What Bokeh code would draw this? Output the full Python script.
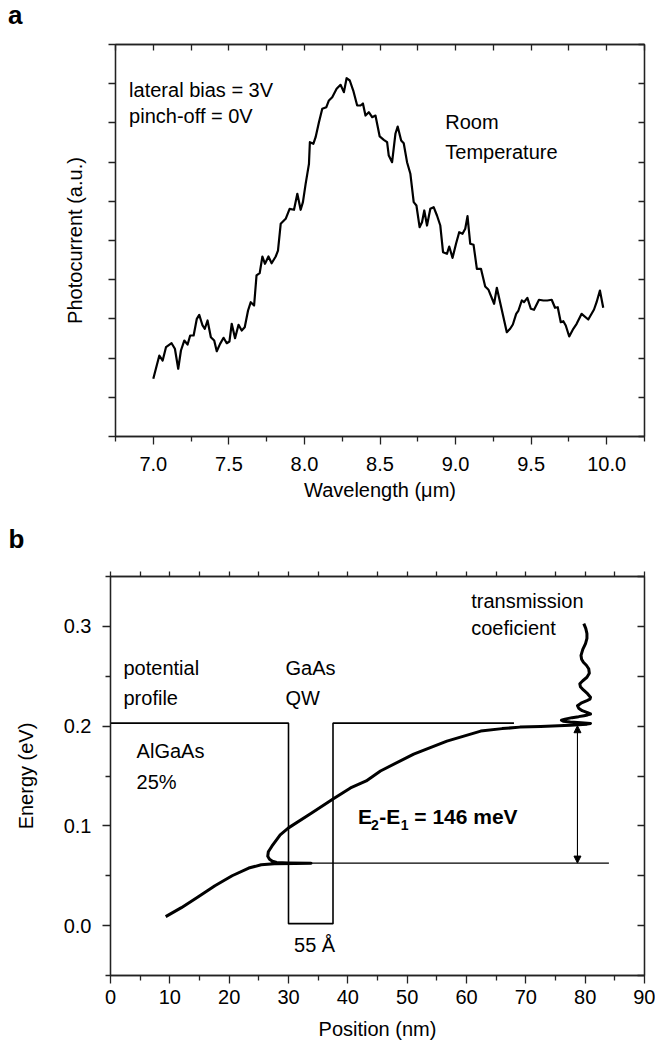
from bokeh.plotting import figure
from bokeh.models import LinearAxis, FixedTicker, Arrow, NormalHead, Div
from bokeh.layouts import column
from bokeh.core.properties import value
from bokeh.embed import file_html
from bokeh.resources import INLINE

FONT = "Liberation Sans"
INK = "#222222"

# ---------------- panel a data ----------------
a_wavelength = [7.000, 7.040, 7.062, 7.084, 7.121, 7.143, 7.165, 7.183, 7.205, 7.227,
                7.244, 7.267, 7.288, 7.304, 7.326, 7.341, 7.359, 7.381, 7.403, 7.420,
                7.442, 7.465, 7.486, 7.504, 7.519, 7.541, 7.564, 7.585, 7.605, 7.627,
                7.645, 7.667, 7.683, 7.704, 7.722, 7.739, 7.762, 7.783, 7.810, 7.825,
                7.843, 7.876, 7.902, 7.931, 7.953, 7.975, 7.990, 8.008, 8.030, 8.036,
                8.059, 8.074, 8.096, 8.118, 8.145, 8.162, 8.184, 8.213, 8.239, 8.261,
                8.279, 8.300, 8.323, 8.349, 8.371, 8.387, 8.404, 8.426, 8.448, 8.470,
                8.498, 8.525, 8.547, 8.558, 8.580, 8.602, 8.617, 8.640, 8.657, 8.679,
                8.701, 8.723, 8.741, 8.762, 8.778, 8.793, 8.811, 8.833, 8.855, 8.877,
                8.899, 8.917, 8.943, 8.958, 8.980, 9.003, 9.024, 9.046, 9.064, 9.079,
                9.097, 9.119, 9.141, 9.168, 9.196, 9.218, 9.255, 9.273, 9.339, 9.361,
                9.379, 9.401, 9.416, 9.438, 9.453, 9.475, 9.498, 9.519, 9.552, 9.581,
                9.607, 9.636, 9.658, 9.676, 9.696, 9.713, 9.729, 9.752, 9.779, 9.801,
                9.834, 9.878, 9.916, 9.933, 9.955, 9.977]
a_photocurrent = [0.736, 1.033, 0.969, 1.139, 1.190, 1.119, 0.864, 1.097, 1.224, 1.173,
                  1.288, 1.288, 1.501, 1.552, 1.416, 1.374, 1.480, 1.267, 1.224, 1.088,
                  1.182, 1.259, 1.190, 1.212, 1.438, 1.254, 1.425, 1.352, 1.394, 1.607,
                  1.713, 1.671, 2.054, 2.083, 2.296, 2.203, 2.296, 2.210, 2.296, 2.372,
                  2.713, 2.777, 2.904, 2.892, 3.096, 2.892, 2.989, 3.223, 3.478, 3.754,
                  3.733, 3.818, 4.009, 4.180, 4.200, 4.286, 4.328, 4.435, 4.486, 4.392,
                  4.570, 4.541, 4.413, 4.222, 4.222, 4.247, 4.094, 4.136, 4.073, 4.094,
                  3.827, 3.784, 3.754, 3.584, 3.499, 3.861, 3.954, 3.776, 3.741, 3.499,
                  3.351, 2.989, 2.946, 2.670, 2.733, 2.883, 2.691, 2.904, 2.925, 2.819,
                  2.691, 2.351, 2.330, 2.423, 2.279, 2.458, 2.606, 2.585, 2.649, 2.810,
                  2.458, 2.445, 2.139, 2.139, 1.913, 1.871, 1.693, 1.897, 1.330, 1.374,
                  1.429, 1.565, 1.607, 1.735, 1.713, 1.769, 1.629, 1.616, 1.744, 1.735,
                  1.735, 1.744, 1.642, 1.649, 1.458, 1.471, 1.416, 1.276, 1.374, 1.437,
                  1.565, 1.492, 1.620, 1.713, 1.862, 1.642]
a_xticks = [7.0, 7.5, 8.0, 8.5, 9.0, 9.5, 10.0]
a_xtick_labels = ["7.0", "7.5", "8.0", "8.5", "9.0", "9.5", "10.0"]
a_xminor = [6.75, 7.25, 7.75, 8.25, 8.75, 9.25, 9.75, 10.25]
a_yticks = [0, 1, 2, 3, 4, 5]
a_yminor = [0.5, 1.5, 2.5, 3.5, 4.5]

# ---------------- panel b data ----------------
pot_x = [0, 30.0, 30.0, 37.5, 37.5, 68.0]
pot_E = [0.203, 0.203, 0.002, 0.002, 0.203, 0.203]
e1_level = 0.0627
e1_x = [27.0, 84.0]
e2_level = 0.2004
arrow_x = 78.7
trans_E = [0.009, 0.018, 0.029, 0.040, 0.050, 0.0577, 0.061, 0.0620, 0.0624, 0.0626,
           0.0629, 0.0633, 0.0645, 0.0665, 0.0695, 0.0740, 0.0796, 0.091, 0.098, 0.113,
           0.127, 0.138, 0.145, 0.155, 0.172, 0.185, 0.195, 0.1975, 0.1990, 0.1997,
           0.2002, 0.2010, 0.2020, 0.2027, 0.2035, 0.2042, 0.2050, 0.2060, 0.2070, 0.2085,
           0.2095, 0.2105, 0.2112, 0.2122, 0.2135, 0.2155, 0.2180, 0.2205, 0.2230, 0.2256,
           0.2270, 0.2289, 0.2325, 0.2363, 0.2395, 0.2424, 0.2455, 0.2490, 0.2530, 0.2575,
           0.2610, 0.2640, 0.2670, 0.2709, 0.2770, 0.2827, 0.2880, 0.2927, 0.2980, 0.3028]
trans_x = [9.3, 11.95, 14.8, 17.6, 20.5, 23.3, 25.4, 27.6, 31.1, 33.8,
           30.0, 28.0, 27.3, 26.8, 26.5, 26.6, 27.2, 28.6, 30.0, 33.9,
           37.5, 40.45, 43.1, 45.5, 51.1, 56.7, 62.4, 66.0, 69.0, 72.5,
           74.5, 77.5, 80.3, 80.9, 79.3, 77.5, 76.3, 76.0, 76.6, 77.8,
           78.9, 79.8, 80.4, 80.9, 80.4, 79.5, 78.9, 78.7, 79.3, 80.3,
           80.8, 80.9, 80.4, 79.7, 79.2, 79.1, 79.6, 80.3, 80.7, 80.6,
           80.2, 79.7, 79.4, 79.3, 79.6, 80.06, 80.3, 80.3, 80.1, 79.77]
b_xticks = [0, 10, 20, 30, 40, 50, 60, 70, 80, 90]
b_xtick_labels = ["0", "10", "20", "30", "40", "50", "60", "70", "80", "90"]
b_xminor = [5, 15, 25, 35, 45, 55, 65, 75, 85]
b_yticks = [0.0, 0.1, 0.2, 0.3]
b_ytick_labels = ["0.0", "0.1", "0.2", "0.3"]
b_yminor = [-0.05, 0.05, 0.15, 0.25, 0.35]


def base_axis_style(ax):
    ax.axis_line_color = INK
    ax.axis_line_width = 1.3
    ax.major_tick_line_color = INK
    ax.major_tick_line_width = 1.3
    ax.minor_tick_line_color = INK
    ax.minor_tick_line_width = 1.3
    ax.axis_label_text_font = FONT
    ax.axis_label_text_font_style = "normal"
    ax.axis_label_text_color = "black"
    ax.axis_label_text_font_size = "20px"


def labelled_axis(ax, ticks, minor, labels, maj_out, min_out):
    base_axis_style(ax)
    ax.ticker = FixedTicker(ticks=ticks, minor_ticks=minor)
    ax.major_tick_in = 0
    ax.major_tick_out = maj_out
    ax.minor_tick_in = 0
    ax.minor_tick_out = min_out
    ax.major_label_text_font = FONT
    ax.major_label_text_color = "black"
    ax.major_label_text_font_size = "20px"
    ax.major_label_overrides = {t: l for t, l in zip(ticks, labels)}


def plain_axis(ax, ticks, minor, tick_in, tick_out):
    # an axis that shows tick marks only (drawn as minor ticks, which carry no labels)
    base_axis_style(ax)
    ax.ticker = FixedTicker(ticks=[], minor_ticks=sorted(list(ticks) + list(minor)))
    ax.major_tick_in = 0
    ax.major_tick_out = 0
    ax.minor_tick_in = tick_in
    ax.minor_tick_out = tick_out
    ax.major_label_standoff = 0


def base_fig(height, xr, yr, top, left, letter=None, title_standoff=10):
    kw = {}
    if letter is not None:
        kw["title"] = letter
    p = figure(width=655, height=height, x_range=xr, y_range=yr,
               output_backend="svg", toolbar_location=None,
               min_border_top=top, min_border_left=left, min_border_right=11,
               min_border_bottom=0, **kw)
    p.frame_align = False
    p.xgrid.visible = False
    p.ygrid.visible = False
    p.outline_line_color = INK
    p.outline_line_width = 1.3
    p.background_fill_color = "white"
    p.border_fill_color = "white"
    if letter is not None:
        p.title.text_font = FONT
        p.title.text_font_size = "26px"
        p.title.text_font_style = "bold"
        p.title.text_color = "black"
        p.title.align = "left"
        p.title.offset = 8 - left
        p.title.standoff = title_standoff
    return p


def txt(p, x, y, s, size="20px", style="normal", align="left"):
    p.text(x=[x], y=[y], text=[s], text_font=value(FONT), text_font_size=value(size),
           text_font_style=style, text_align=align, text_baseline="middle",
           text_color="black")

# ---------------- panel a ----------------
letter_a = Div(text='<span style="font-family: \'Liberation Sans\', Arial, sans-serif; '
                    'font-weight: bold; font-size: 26px; line-height: 30px; color: black;">a</span>',
               width=60, height=30, margin=(0, 0, 0, 8))

pa = base_fig(473, (6.75, 10.25), (0, 5), 14, 115)
labelled_axis(pa.xaxis[0], a_xticks, a_xminor, a_xtick_labels, 8, 5)
pa.xaxis[0].major_label_standoff = 12
pa.xaxis[0].axis_label = "Wavelength (μm)"
pa.xaxis[0].axis_label_standoff = 5
plain_axis(pa.yaxis[0], a_yticks, a_yminor, 0, 7)
pa.yaxis[0].axis_label = "Photocurrent (a.u.)"
pa.yaxis[0].axis_label_standoff = 23
top_a = LinearAxis()
pa.add_layout(top_a, "above")
plain_axis(top_a, a_xticks, a_xminor, 6, 0)
right_a = LinearAxis()
pa.add_layout(right_a, "right")
plain_axis(right_a, a_yticks, a_yminor, 6, 0)

pa.line(a_wavelength, a_photocurrent, line_width=2.2, line_color="black", line_join="round")
txt(pa, 6.840, 4.426, "lateral bias = 3V")
txt(pa, 6.840, 4.082, "pinch-off = 0V")
txt(pa, 8.932, 4.009, "Room")
txt(pa, 8.932, 3.635, "Temperature")

# ---------------- panel b ----------------
pb = base_fig(539, (0, 90), (-0.05, 0.35), 73, 110, "b", 36)
labelled_axis(pb.xaxis[0], b_xticks, b_xminor, b_xtick_labels, 8, 5)
pb.xaxis[0].major_label_standoff = 6
pb.xaxis[0].axis_label = "Position (nm)"
pb.xaxis[0].axis_label_standoff = 11
labelled_axis(pb.yaxis[0], b_yticks, b_yminor, b_ytick_labels, 8, 5)
pb.yaxis[0].major_label_standoff = 11
pb.yaxis[0].axis_label = "Energy (eV)"
pb.yaxis[0].axis_label_standoff = 24
top_b = LinearAxis()
pb.add_layout(top_b, "above")
plain_axis(top_b, b_xticks, b_xminor, 0, 5)
right_b = LinearAxis()
pb.add_layout(right_b, "right")
plain_axis(right_b, b_yticks, b_yminor, 7, 0)

pb.line(pot_x, pot_E, line_width=1.6, line_color="black")
pb.line(e1_x, [e1_level, e1_level], line_width=1.1, line_color="black")
pb.line(trans_x, trans_E, line_width=3.0, line_color="black", line_join="round")
pb.add_layout(Arrow(x_start=arrow_x, y_start=e1_level, x_end=arrow_x, y_end=e2_level,
                    line_width=1.1, line_color="black",
                    start=NormalHead(size=7, fill_color="black", line_color="black"),
                    end=NormalHead(size=7, fill_color="black", line_color="black")))

txt(pb, 2.19, 0.258, "potential")
txt(pb, 2.19, 0.228, "profile")
txt(pb, 29.5, 0.258, "GaAs")
txt(pb, 29.5, 0.228, "QW")
txt(pb, 4.4, 0.175, "AlGaAs")
txt(pb, 4.4, 0.144, "25%")
txt(pb, 60.8, 0.325, "transmission")
txt(pb, 60.8, 0.298, "coeficient")
txt(pb, 34.4, -0.019, "55 Å", align="center")
txt(pb, 41.7, 0.1098, "E", size="21px", style="bold")
txt(pb, 43.9, 0.1008, "2", size="14px", style="bold")
txt(pb, 45.3, 0.1098, "-E", size="21px", style="bold")
txt(pb, 48.9, 0.1008, "1", size="14px", style="bold")
txt(pb, 51.2, 0.1098, "= 146 meV", size="21px", style="bold")

layout = column(letter_a, pa, pb)
open("out.html", "w").write(file_html(layout, INLINE))
